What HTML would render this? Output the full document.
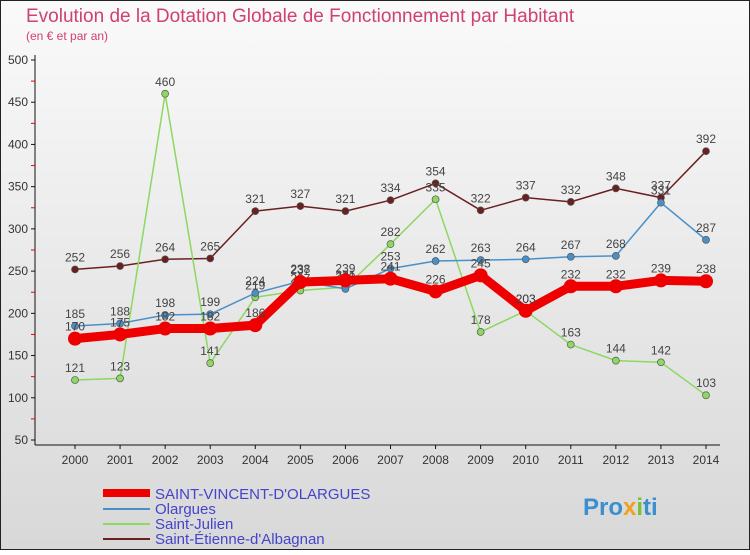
<!DOCTYPE html>
<html><head><meta charset="utf-8"><style>
body{margin:0;background:#fff}
#c{width:750px;height:550px;position:relative;font-family:"Liberation Sans",sans-serif}
</style></head><body>
<div id="c">
<svg id="s" width="750" height="550" xmlns="http://www.w3.org/2000/svg">
<defs><linearGradient id="bg" x1="0" y1="0" x2="0" y2="1"><stop offset="0" stop-color="#fafafa"/><stop offset="1" stop-color="#d8d8d8"/></linearGradient></defs>
<rect x="0.5" y="0.5" width="749" height="549" fill="url(#bg)" stroke="#222"/>
<text x="26" y="22" font-size="19" fill="#d04070">Evolution de la Dotation Globale de Fonctionnement par Habitant</text>
<text x="26" y="40" font-size="12" fill="#d04070">(en € et par an)</text>
<g id="grid"></g><g id="axes"></g><g id="series"></g>
<g>
<line x1="103" y1="493" x2="150" y2="493" stroke="#e00" stroke-width="8"/>
<text x="155" y="499" font-size="15" fill="#4444cc">SAINT-VINCENT-D'OLARGUES</text>
<line x1="103" y1="509" x2="150" y2="509" stroke="#4a90c8" stroke-width="2"/>
<text x="155" y="514" font-size="15" fill="#4444cc">Olargues</text>
<line x1="103" y1="524" x2="150" y2="524" stroke="#8cd860" stroke-width="2"/>
<text x="155" y="529" font-size="15" fill="#4444cc">Saint-Julien</text>
<line x1="103" y1="539" x2="150" y2="539" stroke="#6b2020" stroke-width="2"/>
<text x="155" y="544" font-size="15" fill="#4444cc">Saint-Étienne-d'Albagnan</text>
</g>
<text x="583" y="515" font-size="24" font-weight="bold" fill="#3a8fd0">Pro<tspan fill="#f0a020">x</tspan><tspan fill="#7ac030">i</tspan>ti</text>
</svg></div>
<script>
const years=[2000,2001,2002,2003,2004,2005,2006,2007,2008,2009,2010,2011,2012,2013,2014];
const yTicks=[50,100,150,200,250,300,350,400,450,500];
const stVincent=[170,175,182,182,186,237,239,241,226,245,203,232,232,239,238];
const olargues=[185,188,198,199,224,238,229,253,262,263,264,267,268,331,287];
const stJulien=[121,123,460,141,219,227,231,282,335,178,203,163,144,142,103];
const stEtienne=[252,256,264,265,321,327,321,334,354,322,337,332,348,337,392];
const NS="http://www.w3.org/2000/svg";
function X(i){return 75+i*(706-75)/(years.length-1);}
function Y(v){return 440-(v-50)*380/450;}
function mk(t,a,p){const e=document.createElementNS(NS,t);for(const k in a)e.setAttribute(k,a[k]);p.appendChild(e);return e;}
const ax=document.getElementById('axes');
let l=mk('line',{x1:35,y1:55,x2:35,y2:445,stroke:'#111'},ax);


l=mk('line',{x1:35,y1:445,x2:720,y2:445,stroke:'#111'},ax);


yTicks.forEach(v=>{
 mk('line',{x1:31,y1:Y(v),x2:35,y2:Y(v),stroke:'#111'},ax);
 if(v<500)mk('line',{x1:31,y1:Y(v+25),x2:35,y2:Y(v+25),stroke:'#e00'},ax);
 const t=mk('text',{x:28,y:Y(v)+4,'font-size':12,'text-anchor':'end',fill:'#333'},ax);t.textContent=v;
 
 
});
years.forEach((y,i)=>{
 mk('line',{x1:X(i),y1:445,x2:X(i),y2:449,stroke:'#111'},ax);
 const t=mk('text',{x:X(i),y:464,'font-size':12,'text-anchor':'middle',fill:'#333'},ax);t.textContent=y;
 
 
});
const sg=document.getElementById('series');
function draw(vals,color,w,r,name){
 const g=mk('g',{},sg);
 
 
 const p=mk('polyline',{points:vals.map((v,i)=>X(i)+','+Y(v)).join(' '),fill:'none',stroke:color,'stroke-width':w,'stroke-linejoin':'round'},g);
 
 
 vals.forEach((v,i)=>{
  const c=mk('circle',{cx:X(i),cy:Y(v),r:r,fill:color,stroke:'#555','stroke-width':r>5?0:0.7},g);
  
  
  const t=mk('text',{x:X(i),y:Y(v)-8,'font-size':12,'text-anchor':'middle',fill:'#444'},g);t.textContent=v;
  
  
 });
}
draw(stEtienne,'#6b2020',1.5,3.5,'saint-etienne-series');
draw(stJulien,'#8cd860',1.5,3.5,'saint-julien-series');
draw(olargues,'#4a90c8',1.5,3.5,'olargues-series');
draw(stVincent,'#e00',9,7,'saint-vincent-series');
</script>
</body></html>
